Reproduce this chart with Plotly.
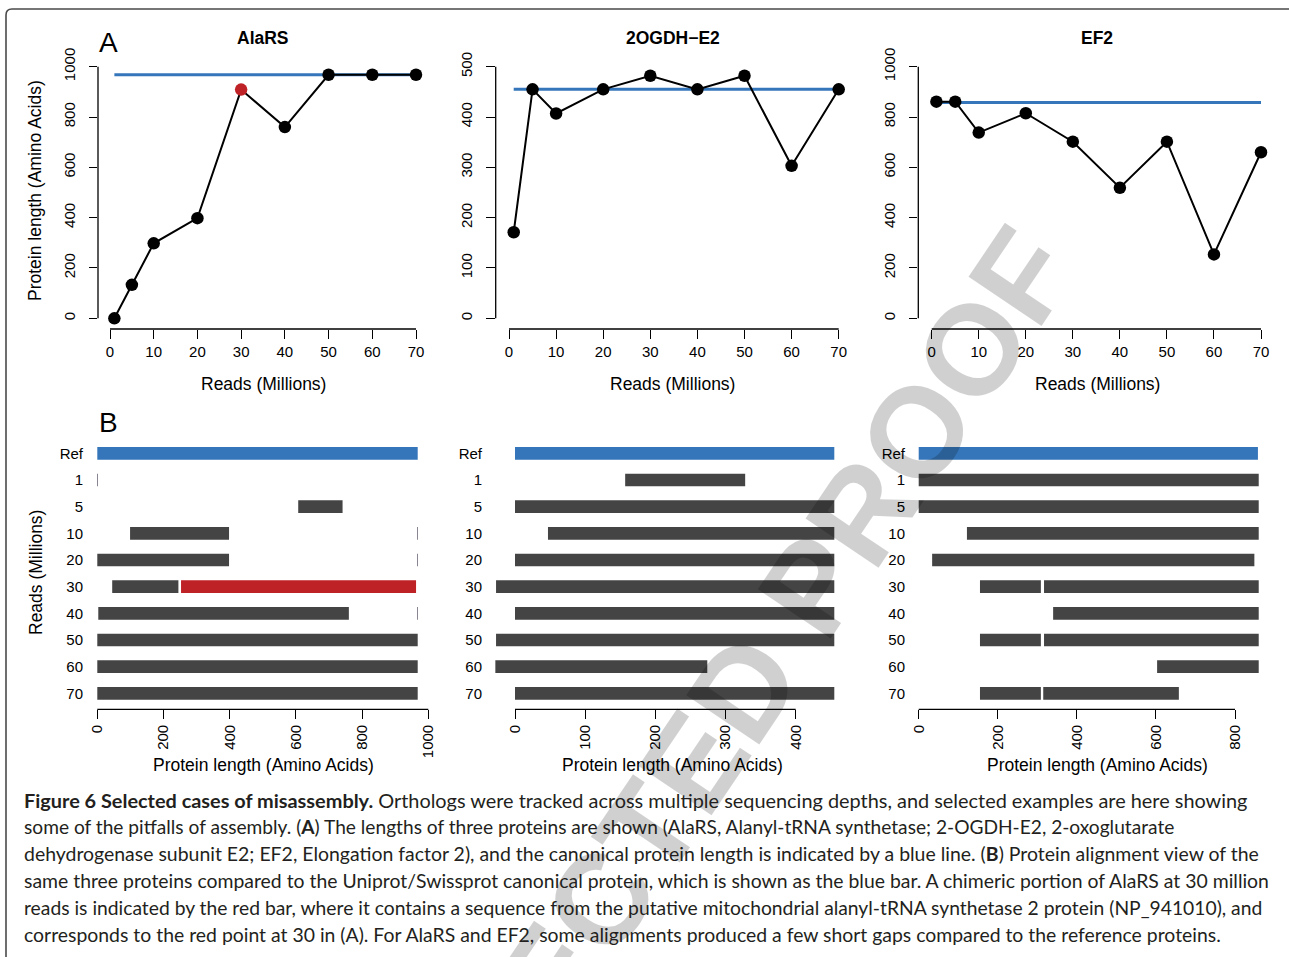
import plotly.graph_objects as go

W, H = 1289, 957

# ---- Panel A: assembled protein length vs sequencing depth ----
reads = [1, 5, 10, 20, 30, 40, 50, 60, 70]
alars_len = [0, 133, 298, 398, 909, 760, 968, 968, 968]
ogdh_len = [171, 455, 407, 455, 482, 455, 482, 303, 455]
ef2_len = [861, 861, 738, 815, 702, 519, 702, 254, 660]
alars_ref_len = 968
ogdh_ref_len = 455
ef2_ref_len = 858
chimeric_reads = 30

# ---- Panel B: alignments against the canonical protein ----
row_labels = ["Ref", "1", "5", "10", "20", "30", "40", "50", "60", "70"]

alars_seg_row = ["Ref", "1", "5", "10", "10", "20", "20", "30", "30", "40", "40", "50", "60", "70"]
alars_seg_start = [0, 0, 607, 99, 966, 0, 966, 45, 253, 3, 966, 0, 0, 0]
alars_seg_end = [968, 2, 741, 398, 968, 398, 968, 245, 963, 760, 968, 968, 968, 968]
alars_seg_kind = ["ref", "contig", "contig", "contig", "contig", "contig", "contig",
                  "contig", "chimera", "contig", "contig", "contig", "contig", "contig"]

ogdh_seg_row = ["Ref", "1", "5", "10", "20", "30", "40", "50", "60", "70"]
ogdh_seg_start = [0, 157, 0, 47, 0, -27, 0, -27, -28, 0]
ogdh_seg_end = [455, 328, 455, 455, 455, 455, 455, 455, 274, 455]
ogdh_seg_kind = ["ref"] + ["contig"] * 9

ef2_seg_row = ["Ref", "1", "5", "10", "20", "30", "30", "40", "50", "50", "60", "70", "70"]
ef2_seg_start = [0, 0, 0, 122, 34, 155, 317, 340, 155, 317, 603, 155, 315]
ef2_seg_end = [858, 860, 860, 860, 849, 309, 860, 860, 309, 860, 860, 309, 658]
ef2_seg_kind = ["ref"] + ["contig"] * 12

BLUE = "#3576BA"
RED = "#BE2126"
DARK = "#444444"
SLIVER = "#8A8590"
KIND_COLOR = {"ref": BLUE, "contig": DARK, "chimera": RED}
FONT = "Liberation Sans, Arial, sans-serif"
CAP_FONT = "Lato, Noto Sans, sans-serif"


def fx(p):
    return p / W


def fy(p):
    return 1 - p / H


def xrange_from(px_lo, px_hi, px0, k):
    return [(px_lo - px0) / k, (px_hi - px0) / k]


def yrange_from(py_bottom, py_top, py0, k):
    return [(py0 - py_bottom) / k, (py0 - py_top) / k]


fig = go.Figure()
layout = dict(
    width=W, height=H, margin=dict(l=0, r=0, t=0, b=0, pad=0, autoexpand=False),
    paper_bgcolor="white", plot_bgcolor="rgba(0,0,0,0)",
    showlegend=False, barmode="overlay",
    font=dict(family=FONT, color="black", size=15),
)
shapes = []
annotations = []

# Watermark (drawn first so the rest of the text sits on top of it)
annotations.append(dict(
    text="<b>CORRECTED PROOF</b>", x=fx(679), y=fy(783), xref="paper", yref="paper",
    showarrow=False, textangle=-56, xanchor="center", yanchor="middle",
    font=dict(family=FONT, size=128, color="rgba(0,0,0,0.185)"),
))

# ---------------- Panel A ----------------
top_panels = [
    # title, values, canonical length, x-domain px, px of x=0, px per read, px of y=0, px per aa, y ticks, centre px
    ("AlaRS", alars_len, alars_ref_len, (98, 428), 110.0, 306.0 / 70, 318.3, 251.6 / 1000,
     list(range(0, 1001, 200)), 263),
    ("2OGDH\u2212E2", ogdh_len, ogdh_ref_len, (495.7, 850), 509.0, 329.7 / 70, 318.3, 251.6 / 500,
     list(range(0, 501, 100)), 673),
    ("EF2", ef2_len, ef2_ref_len, (918.3, 1275), 931.7, 329.3 / 70, 318.3, 251.6 / 1000,
     list(range(0, 1001, 200)), 1097),
]
A_XAXIS_PY = 329.0
A_TOP_PY = 58.0

for i, (name, vals, ref, (dl, dr), x0, kx, y0, ky, yt, cx) in enumerate(top_panels):
    n = i + 1
    xa = "x" if n == 1 else f"x{n}"
    ya = "y" if n == 1 else f"y{n}"
    layout[f"xaxis{'' if n == 1 else n}"] = dict(
        domain=[fx(dl), fx(dr)], range=xrange_from(dl, dr, x0, kx), anchor=ya,
        showgrid=False, zeroline=False, showline=False, automargin=False,
        tickvals=list(range(0, 71, 10)), ticks="outside", ticklen=8.5, tickwidth=1.3,
        tickcolor="black", tickfont=dict(size=15, family=FONT), ticklabelstandoff=0,
    )
    layout[f"yaxis{'' if n == 1 else n}"] = dict(
        domain=[fy(A_XAXIS_PY), fy(A_TOP_PY)], range=yrange_from(A_XAXIS_PY, A_TOP_PY, y0, ky),
        anchor=xa, showgrid=False, zeroline=False, showline=False, automargin=False,
        tickvals=yt, ticks="outside", ticklen=8.5, tickwidth=1.3, tickcolor="black",
        tickangle=-90, tickfont=dict(size=15, family=FONT), ticklabelstandoff=8,
    )
    # canonical length line
    fig.add_trace(go.Scatter(
        x=[reads[0], reads[-1]], y=[ref, ref], mode="lines", xaxis=xa, yaxis=ya,
        line=dict(color=BLUE, width=3), cliponaxis=False, hoverinfo="skip",
    ))
    colors = [RED if (n == 1 and r == chimeric_reads) else "black" for r in reads]
    fig.add_trace(go.Scatter(
        x=reads, y=vals, mode="lines+markers", xaxis=xa, yaxis=ya,
        line=dict(color="black", width=2),
        marker=dict(size=12.5, color=colors, line=dict(width=0)),
        cliponaxis=False,
    ))
    # axis lines spanning first to last tick
    shapes.append(dict(type="line", xref=xa, yref="paper", x0=0, x1=70,
                       y0=fy(A_XAXIS_PY), y1=fy(A_XAXIS_PY), line=dict(color="black", width=1.3)))
    shapes.append(dict(type="line", xref="paper", yref=ya, x0=fx(dl), x1=fx(dl),
                       y0=yt[0], y1=yt[-1], line=dict(color="black", width=1.3)))
    annotations.append(dict(text=f"<b>{name}</b>", x=fx(cx), y=fy(38), xref="paper", yref="paper",
                            showarrow=False, xanchor="center", yanchor="middle",
                            font=dict(size=17.5, family=FONT)))
    annotations.append(dict(text="Reads (Millions)", x=fx(cx), y=fy(384), xref="paper", yref="paper",
                            showarrow=False, xanchor="center", yanchor="middle",
                            font=dict(size=17.5, family=FONT)))

annotations.append(dict(text="Protein length (Amino Acids)", x=fx(35), y=fy(191), xref="paper",
                        yref="paper", showarrow=False, textangle=-90, xanchor="center",
                        yanchor="middle", font=dict(size=17.5, family=FONT)))
annotations.append(dict(text="A", x=fx(108), y=fy(42), xref="paper", yref="paper", showarrow=False,
                        xanchor="center", yanchor="middle", font=dict(size=28, family=FONT)))

# ---------------- Panel B ----------------
bottom_panels = [
    (alars_seg_row, alars_seg_start, alars_seg_end, alars_seg_kind, (88, 436), 97.3, 331.0 / 1000,
     list(range(0, 1001, 200)), 263),
    (ogdh_seg_row, ogdh_seg_start, ogdh_seg_end, ogdh_seg_kind, (487, 846), 515.0, 280.7 / 400,
     list(range(0, 401, 100)), 673),
    (ef2_seg_row, ef2_seg_start, ef2_seg_end, ef2_seg_kind, (910, 1276), 918.7, 316.3 / 800,
     list(range(0, 801, 200)), 1097),
]
B_XAXIS_PY = 709.3
B_TOP_PY = 440.0
ROW0_PY = 453.3
ROW_STEP = 26.67

for j, (srow, sst, sen, skind, (dl, dr), x0, kx, xt, cx) in enumerate(bottom_panels):
    n = j + 4
    xa, ya = f"x{n}", f"y{n}"
    layout[f"xaxis{n}"] = dict(
        domain=[fx(dl), fx(dr)], range=xrange_from(dl, dr, x0, kx), anchor=ya,
        showgrid=False, zeroline=False, showline=False, automargin=False,
        tickvals=xt, ticks="outside", ticklen=8.5, tickwidth=1.3, tickcolor="black",
        tickangle=-90, tickfont=dict(size=15, family=FONT), ticklabelstandoff=0,
    )
    layout[f"yaxis{n}"] = dict(
        domain=[fy(B_XAXIS_PY), fy(B_TOP_PY)],
        range=[(B_XAXIS_PY - ROW0_PY) / ROW_STEP, (B_TOP_PY - ROW0_PY) / ROW_STEP],
        anchor=xa, showgrid=False, zeroline=False, showline=False, automargin=False,
        tickvals=list(range(len(row_labels))), ticktext=row_labels, ticks="",
        tickfont=dict(size=15, family=FONT), ticklabelstandoff=4,
    )
    for kind in ["ref", "contig", "chimera"]:
        idx = [k for k, kk in enumerate(skind) if kk == kind]
        if not idx:
            continue
        lengths = [sen[k] - sst[k] for k in idx]
        fig.add_trace(go.Bar(
            orientation="h", xaxis=xa, yaxis=ya,
            y=[row_labels.index(srow[k]) for k in idx],
            base=[sst[k] for k in idx],
            x=lengths,
            width=0.475,
            marker=dict(color=[SLIVER if L <= 2 else KIND_COLOR[kind] for L in lengths],
                        line=dict(width=0)),
        ))
    shapes.append(dict(type="line", xref=xa, yref="paper", x0=xt[0], x1=xt[-1],
                       y0=fy(B_XAXIS_PY), y1=fy(B_XAXIS_PY), line=dict(color="black", width=1.3)))
    annotations.append(dict(text="Protein length (Amino Acids)", x=fx(cx), y=fy(765), xref="paper",
                            yref="paper", showarrow=False, xanchor="center", yanchor="middle",
                            font=dict(size=17.5, family=FONT)))

annotations.append(dict(text="Reads (Millions)", x=fx(36), y=fy(573), xref="paper", yref="paper",
                        showarrow=False, textangle=-90, xanchor="center", yanchor="middle",
                        font=dict(size=17.5, family=FONT)))
annotations.append(dict(text="B", x=fx(108), y=fy(422), xref="paper", yref="paper", showarrow=False,
                        xanchor="center", yanchor="middle", font=dict(size=28, family=FONT)))

# ---------------- Caption ----------------
caption_lines = [
    "<b>Figure 6 Selected cases of misassembly.</b> Orthologs were tracked across multiple sequencing depths, and selected examples are here showing",
    "some of the pitfalls of assembly. (<b>A</b>) The lengths of three proteins are shown (AlaRS, Alanyl-tRNA synthetase; 2-OGDH-E2, 2-oxoglutarate",
    "dehydrogenase subunit E2; EF2, Elongation factor 2), and the canonical protein length is indicated by a blue line. (<b>B</b>) Protein alignment view of the",
    "same three proteins compared to the Uniprot/Swissprot canonical protein, which is shown as the blue bar. A chimeric portion of AlaRS at 30 million",
    "reads is indicated by the red bar, where it contains a sequence from the putative mitochondrial alanyl-tRNA synthetase 2 protein (NP_941010), and",
    "corresponds to the red point at 30 in (A). For AlaRS and EF2, some alignments produced a few short gaps compared to the reference proteins.",
]
# per-line sizes keep the justified-looking right edges of the caption block
caption_sizes = [19.9, 19.15, 19.45, 19.4, 19.3, 19.4]
for li, line in enumerate(caption_lines):
    annotations.append(dict(text=line, x=fx(22), y=fy(800 + li * 26.8), xref="paper", yref="paper",
                            showarrow=False, xanchor="left", yanchor="middle",
                            font=dict(size=caption_sizes[li], family=CAP_FONT, color="#231F20")))

# Rounded frame around the figure
frame = (f"M {fx(6)},{fy(965)} L {fx(6)},{fy(15)} Q {fx(6)},{fy(9)} {fx(12)},{fy(9)} "
         f"L {fx(1300)},{fy(9)}")
shapes.append(dict(type="path", xref="paper", yref="paper", path=frame,
                   line=dict(color="#4A4A4A", width=1.6)))

layout["shapes"] = shapes
layout["annotations"] = annotations
fig.update_layout(**layout)
fig.write_html("out.html")
